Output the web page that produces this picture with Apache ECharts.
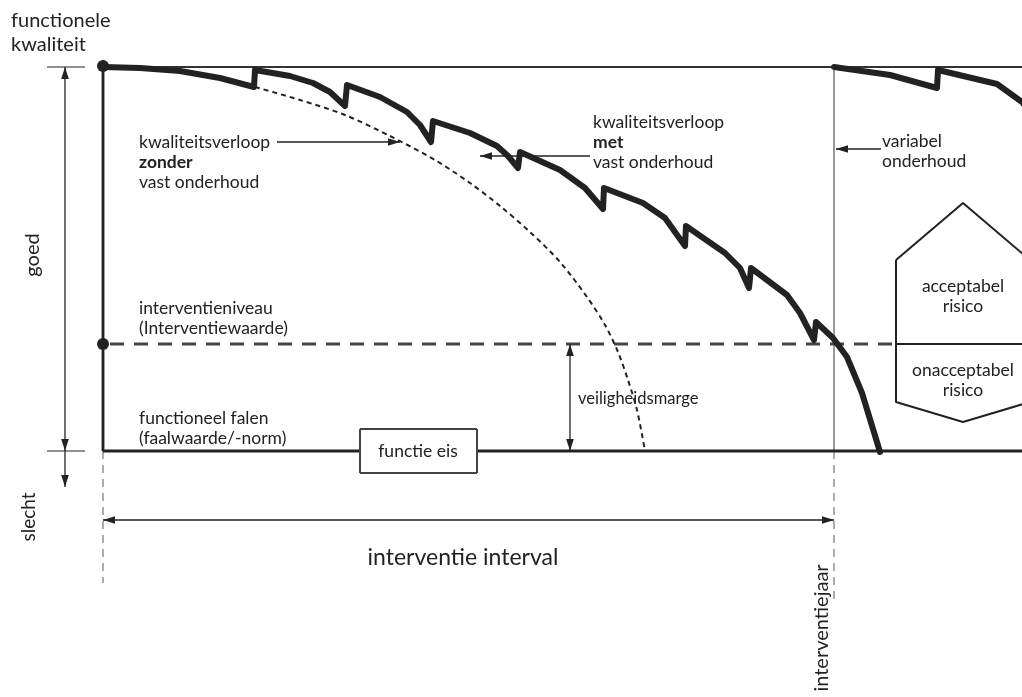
<!DOCTYPE html>
<html>
<head>
<meta charset="utf-8">
<script src="https://cdn.jsdelivr.net/npm/echarts@6/dist/echarts.min.js"></script>
<style>
  html, body { margin: 0; background: #fff; }
  #main { width: 1022px; height: 697px; }
</style>
</head>
<body>
<div id="main"></div>
<script>
// drawing space: x = time (left to right), y = quality (top = good, down = bad)

// quality path with fixed maintenance (saw teeth)
const qualityWith = [
  [103, 67], [140, 68], [180, 71], [220, 78], [254, 87],
  [255, 70], [290, 76], [313, 83], [330, 92], [345, 106],
  [347, 85], [380, 97], [407, 112], [420, 125], [431, 142],
  [433, 121], [470, 133], [497, 146], [508, 156], [518, 168],
  [520, 152], [560, 170], [585, 188], [603, 209],
  [604, 188], [643, 203], [665, 218], [685, 246],
  [686, 226], [725, 253], [740, 268], [749, 288],
  [751, 268], [787, 295], [800, 313], [814, 340],
  [816, 322], [833, 338], [847, 357], [862, 393], [880, 452]
];
// after the intervention year
const qualityAfter = [
  [834, 67], [890, 75], [937, 88], [938, 70], [997, 84], [1022, 102], [1040, 125]
];
// quality path without maintenance
const qualityWithout = [
  [255, 87], [300, 100], [345, 115], [390, 136], [435, 160], [470, 183],
  [500, 206], [530, 232], [560, 262], [587, 297], [605, 325], [618, 352],
  [628, 380], [637, 410], [645, 451]
];

// [x1, y1, x2, y2]
const frameLines = [
  [103, 67, 103, 451],
  [103, 451, 360, 451],
  [477, 451, 1022, 451]
];
const topLine = [[103, 67, 1022, 67]];
const thinLines = [
  [834, 67, 834, 451],
  [47, 67, 85, 67],
  [47, 451, 85, 451]
];
const guideDashed = [
  [103, 451, 103, 583],
  [834, 451, 834, 600]
];
const interventionLine = [[110, 344, 892, 344]];
const boxEdges = [
  [360, 429, 477, 429], [477, 429, 477, 473], [477, 473, 360, 473], [360, 473, 360, 429]
];
// [x1, y1, x2, y2, headAtStart, headAtEnd]
const arrows = [
  [65, 67, 65, 451, 1, 1],
  [65, 451, 65, 487, 0, 1],
  [570, 344, 570, 451, 1, 1],
  [103, 520, 834, 520, 1, 1],
  [277, 142, 400, 142, 0, 1],
  [590, 156, 480, 156, 0, 1],
  [881, 149, 836, 149, 0, 1]
];
const hexagon = [[896, 260], [963, 203], [1030, 260], [1030, 402], [963, 422], [896, 402], [896, 260]];
const hexDivider = [[896, 344, 1030, 344]];
const dots = [[103, 66], [103, 344]];

// text, x, y, align, rotate, size
const notes = [
  ['functionele', 11, 21, 'left', 0, 20],
  ['kwaliteit', 11, 45, 'left', 0, 20],
  ['goed', 33, 255, 'center', 90, 20],
  ['slecht', 29, 517, 'center', 90, 19],
  ['kwaliteitsverloop\n{b|zonder}\nvast onderhoud', 139, 162, 'left', 0, 17.5],
  ['kwaliteitsverloop\n{b|met}\nvast onderhoud', 593, 142, 'left', 0, 17.5],
  ['variabel\nonderhoud', 882, 151, 'left', 0, 17.5],
  ['interventieniveau\n(Interventiewaarde)', 139, 318, 'left', 0, 17.5],
  ['functioneel falen\n(faalwaarde/-norm)', 139, 428, 'left', 0, 17.5],
  ['functie eis', 418, 451, 'center', 0, 17.5],
  ['veiligheidsmarge', 578, 399, 'left', 0, 16.5],
  ['acceptabel\nrisico', 963, 296, 'center', 0, 17.5],
  ['onacceptabel\nrisico', 963, 380, 'center', 0, 17.5],
  ['interventie interval', 463, 558, 'center', 0, 23],
  ['interventiejaar', 822, 628, 'center', 90, 20]
];

const FONT = 'Lato, "Open Sans", sans-serif';

function segSeries(data, color, width, dash, heads) {
  return {
    type: 'custom',
    data: data,
    silent: true,
    renderItem: function (params, api) {
      const a = api.coord([api.value(0), api.value(1)]);
      const b = api.coord([api.value(2), api.value(3)]);
      const children = [{
        type: 'line',
        shape: { x1: a[0], y1: a[1], x2: b[0], y2: b[1] },
        style: { stroke: color, lineWidth: width, lineDash: dash || null, lineCap: 'butt' }
      }];
      if (heads) {
        const ang = Math.atan2(b[1] - a[1], b[0] - a[0]);
        const head = function (tip, dir) {
          const L = 12, hw = 3.8;
          const bx = tip[0] - Math.cos(dir) * L, by = tip[1] - Math.sin(dir) * L;
          const px = -Math.sin(dir) * hw, py = Math.cos(dir) * hw;
          return {
            type: 'polygon',
            shape: { points: [tip, [bx + px, by + py], [bx - px, by - py]] },
            style: { fill: color }
          };
        };
        if (api.value(4)) children.push(head(a, ang + Math.PI));
        if (api.value(5)) children.push(head(b, ang));
      }
      return { type: 'group', children: children };
    }
  };
}

const chart = echarts.init(document.getElementById('main'));
chart.setOption({
  animation: false,
  backgroundColor: '#fff',
  grid: { left: 0, right: 0, top: 0, bottom: 0 },
  xAxis: { type: 'value', min: 0, max: 1022, show: false },
  yAxis: { type: 'value', min: 0, max: 697, inverse: true, show: false },
  series: [
    segSeries(thinLines, '#6e6e6e', 1.4),
    segSeries(guideDashed, '#8a8a8a', 1.4, [8, 6]),
    segSeries(topLine, '#333', 2),
    segSeries(frameLines, '#222', 2.8),
    segSeries(boxEdges, '#444', 2),
    segSeries(interventionLine, '#444', 3, [14, 10]),
    segSeries(hexDivider, '#222', 2),
    segSeries(arrows, '#222', 1.3, null, true),
    {
      type: 'line', data: hexagon, symbol: 'none', silent: true,
      lineStyle: { color: '#222', width: 2 }
    },
    {
      type: 'line', data: qualityWithout, symbol: 'none', smooth: 0.3, silent: true,
      lineStyle: { color: '#222', width: 2, type: [5, 4] }
    },
    {
      type: 'line', data: qualityWith, symbol: 'none', silent: true,
      lineStyle: { color: '#222', width: 6, join: 'round', cap: 'round' }
    },
    {
      type: 'line', data: qualityAfter, symbol: 'none', silent: true,
      lineStyle: { color: '#222', width: 6, join: 'round', cap: 'round' }
    },
    {
      type: 'scatter', data: dots, symbolSize: 12, silent: true,
      itemStyle: { color: '#222', opacity: 1 }
    },
    {
      type: 'custom',
      data: notes.map(function (n) { return [n[1], n[2]]; }),
      silent: true,
      renderItem: function (params, api) {
        const n = notes[params.dataIndex];
        const p = api.coord([api.value(0), api.value(1)]);
        return {
          type: 'text',
          x: p[0], y: p[1],
          rotation: n[4] * Math.PI / 180,
          style: {
            text: n[0],
            fill: '#222',
            fontFamily: FONT,
            fontSize: n[5],
            lineHeight: 20,
            align: n[3],
            verticalAlign: 'middle',
            rich: { b: { fontWeight: 'bold', fontFamily: FONT, fontSize: n[5], lineHeight: 20, fill: '#222' } }
          }
        };
      }
    }
  ]
});
</script>
</body>
</html>
